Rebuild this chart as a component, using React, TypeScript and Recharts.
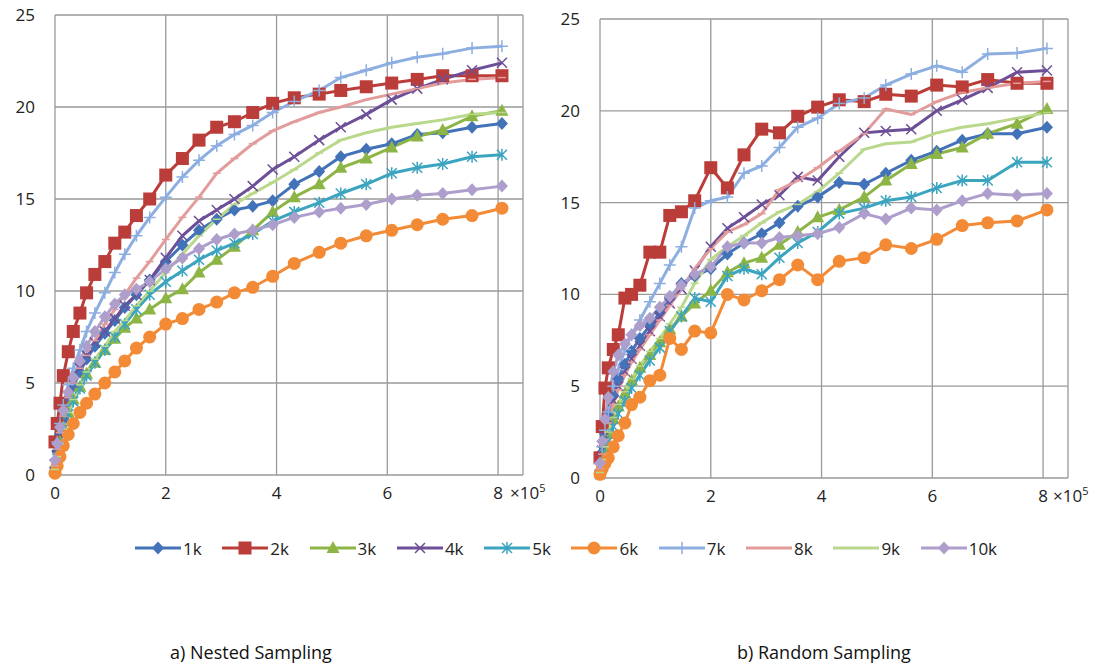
import React from "react";
import { LineChart, Line, XAxis, YAxis, CartesianGrid } from "recharts";

// x positions in units of 10^5, shared by both panels
const xValues = [0, 0.04, 0.09, 0.15, 0.24, 0.33, 0.45, 0.57, 0.72, 0.9, 1.08, 1.26, 1.47, 1.71, 2.0, 2.3, 2.6, 2.92, 3.24, 3.57, 3.93, 4.32, 4.77, 5.16, 5.62, 6.08, 6.54, 7.0, 7.53, 8.07];
const xTicks = [0, 2, 4, 6, 8];
const yTicks = [0, 5, 10, 15, 20, 25];
const seriesNames = ["1k", "2k", "3k", "4k", "5k", "6k", "7k", "8k", "9k", "10k"];

// a) Nested Sampling
const nested1k = [0.4, 1.3, 2.2, 3.0, 4.0, 4.8, 5.6, 6.3, 7.0, 7.7, 8.4, 9.1, 9.8, 10.6, 11.6, 12.5, 13.3, 13.9, 14.4, 14.6, 14.9, 15.8, 16.5, 17.3, 17.7, 18.0, 18.5, 18.6, 18.9, 19.1];
const nested2k = [1.8, 2.8, 3.9, 5.4, 6.7, 7.8, 8.8, 9.9, 10.9, 11.6, 12.6, 13.2, 14.1, 15.0, 16.3, 17.2, 18.2, 18.9, 19.2, 19.7, 20.2, 20.5, 20.7, 20.9, 21.1, 21.3, 21.5, 21.7, 21.7, 21.7];
const nested3k = [0.3, 1.0, 1.8, 2.6, 3.4, 4.1, 4.8, 5.5, 6.1, 6.8, 7.4, 8.0, 8.5, 9.0, 9.6, 10.1, 11.0, 11.7, 12.4, 13.3, 14.3, 15.1, 15.8, 16.7, 17.2, 17.8, 18.4, 18.75, 19.5, 19.8];
const nested4k = [0.6, 1.5, 2.4, 3.3, 4.3, 5.0, 5.8, 6.5, 7.2, 7.8, 8.5, 9.2, 9.8, 10.6, 11.8, 13.0, 13.8, 14.4, 15.0, 15.7, 16.6, 17.3, 18.2, 18.9, 19.6, 20.4, 21.0, 21.5, 22.0, 22.4];
const nested5k = [0.2, 0.9, 1.7, 2.5, 3.3, 4.0, 4.7, 5.4, 6.1, 6.8, 7.5, 8.2, 9.0, 9.8, 10.5, 11.1, 11.7, 12.2, 12.6, 13.1, 13.8, 14.3, 14.8, 15.3, 15.8, 16.4, 16.7, 16.9, 17.3, 17.4];
const nested6k = [0.1, 0.5, 1.0, 1.6, 2.2, 2.8, 3.4, 3.9, 4.4, 5.0, 5.6, 6.2, 6.9, 7.5, 8.2, 8.5, 9.0, 9.4, 9.9, 10.2, 10.8, 11.5, 12.1, 12.6, 13.0, 13.3, 13.6, 13.9, 14.1, 14.5];
const nested7k = [0.8, 1.8, 2.8, 3.8, 4.9, 5.8, 6.8, 7.8, 8.8, 9.9, 11.0, 12.0, 13.0, 14.0, 15.1, 16.2, 17.1, 17.9, 18.5, 19.0, 19.7, 20.3, 20.9, 21.6, 22.0, 22.4, 22.7, 22.9, 23.2, 23.3];
const nested8k = [0.5, 1.4, 2.3, 3.2, 4.2, 5.0, 5.8, 6.5, 7.3, 8.2, 9.0, 9.8, 10.7, 11.6, 12.8, 14.0, 15.1, 16.4, 17.2, 18.0, 18.7, 19.2, 19.7, 20.0, 20.4, 20.7, 21.0, 21.3, 21.5, 21.6];
const nested9k = [0.3, 1.0, 1.7, 2.5, 3.4, 4.1, 4.9, 5.6, 6.3, 7.0, 7.8, 8.4, 9.2, 10.0, 11.0, 12.0, 13.0, 13.9, 14.7, 15.3, 15.9, 16.6, 17.5, 18.2, 18.6, 18.9, 19.1, 19.3, 19.6, 19.7];
const nested10k = [0.8, 1.7, 2.6, 3.5, 4.5, 5.3, 6.2, 7.0, 7.8, 8.6, 9.3, 9.8, 10.1, 10.5, 11.2, 11.8, 12.3, 12.8, 13.1, 13.3, 13.6, 14.0, 14.3, 14.5, 14.7, 15.0, 15.2, 15.3, 15.5, 15.7];

// b) Random Sampling
const random1k = [0.4, 1.4, 2.4, 3.4, 4.5, 5.4, 6.2, 6.9, 7.6, 8.3, 9.0, 9.8, 10.6, 11.0, 11.4, 12.2, 12.8, 13.3, 13.9, 14.8, 15.3, 16.1, 16.0, 16.6, 17.3, 17.8, 18.4, 18.75, 18.75, 19.1];
const random2k = [1.1, 2.8, 4.9, 6.0, 7.0, 7.8, 9.8, 10.0, 10.5, 12.3, 12.3, 14.3, 14.5, 15.1, 16.9, 15.8, 17.6, 19.0, 18.8, 19.7, 20.2, 20.6, 20.5, 20.9, 20.8, 21.4, 21.3, 21.7, 21.5, 21.5];
const random3k = [0.3, 0.9, 1.6, 2.4, 3.2, 3.9, 4.6, 5.3, 6.0, 6.7, 7.4, 8.1, 8.8, 9.5, 10.2, 11.2, 11.7, 12.0, 12.7, 13.4, 14.2, 14.6, 15.3, 16.2, 17.1, 17.65, 18.0, 18.75, 19.3, 20.1];
const random4k = [0.6, 1.5, 2.3, 3.2, 4.2, 5.0, 5.8, 6.5, 7.2, 8.0, 8.8, 9.5, 10.3, 11.3, 12.6, 13.6, 14.2, 14.9, 15.4, 16.4, 16.2, 17.5, 18.8, 18.9, 19.0, 20.0, 20.6, 21.25, 22.1, 22.2];
const random5k = [0.2, 0.7, 1.3, 2.0, 2.8, 3.5, 4.2, 4.9, 5.6, 6.4, 7.1, 8.0, 8.8, 9.8, 9.6, 11.0, 11.4, 11.1, 12.0, 12.8, 13.4, 14.4, 14.7, 15.1, 15.3, 15.8, 16.2, 16.2, 17.2, 17.2];
const random6k = [0.2, 0.5, 0.8, 1.1, 1.7, 2.3, 3.0, 4.0, 4.4, 5.3, 5.6, 7.6, 7.0, 8.0, 7.9, 10.0, 9.7, 10.2, 10.8, 11.6, 10.8, 11.8, 12.0, 12.7, 12.5, 13.0, 13.75, 13.9, 14.0, 14.6];
const random7k = [0.8, 1.7, 2.6, 3.6, 5.0, 5.9, 7.0, 7.8, 8.6, 9.6, 10.6, 11.6, 12.6, 14.7, 15.1, 15.3, 16.6, 17.0, 18.0, 19.1, 19.6, 20.4, 20.7, 21.4, 22.0, 22.45, 22.1, 23.1, 23.15, 23.4];
const random8k = [0.5, 1.3, 2.1, 3.0, 4.0, 4.8, 5.6, 6.3, 7.0, 7.8, 8.6, 9.4, 10.3, 11.4, 12.5, 13.4, 13.8, 14.4, 15.7, 16.2, 16.9, 17.8, 18.75, 20.1, 19.8, 20.5, 21.0, 21.25, 21.5, 21.6];
const random9k = [0.3, 1.0, 1.7, 2.5, 3.3, 4.0, 4.7, 5.4, 6.1, 6.9, 7.6, 8.4, 9.3, 10.6, 11.9, 12.6, 13.2, 13.9, 14.5, 14.9, 15.6, 16.6, 17.9, 18.2, 18.3, 18.8, 19.1, 19.3, 19.6, 19.9];
const random10k = [0.8, 2.0, 3.2, 4.4, 5.8, 6.7, 7.3, 7.8, 8.3, 8.7, 9.3, 9.9, 10.5, 11.1, 11.5, 12.6, 12.8, 12.8, 13.1, 13.2, 13.3, 13.65, 14.4, 14.1, 14.7, 14.6, 15.1, 15.5, 15.4, 15.5];

const nestedSeries = [nested1k, nested2k, nested3k, nested4k, nested5k, nested6k, nested7k, nested8k, nested9k, nested10k];
const randomSeries = [random1k, random2k, random3k, random4k, random5k, random6k, random7k, random8k, random9k, random10k];

type MarkerKind = "diamond" | "square" | "triangle" | "cross" | "star" | "circle" | "plus" | "dash";

const styles: { color: string; marker: MarkerKind }[] = [
  { color: "#4272b8", marker: "diamond" },
  { color: "#bb3d39", marker: "square" },
  { color: "#8db546", marker: "triangle" },
  { color: "#6d4f98", marker: "cross" },
  { color: "#3ba4bf", marker: "star" },
  { color: "#f38b36", marker: "circle" },
  { color: "#8caee0", marker: "plus" },
  { color: "#e39c9c", marker: "dash" },
  { color: "#b9d88c", marker: "dash" },
  { color: "#ad9ecc", marker: "diamond" },
];

function buildRows(series: number[][]) {
  return xValues.map((x, i) => {
    const row: Record<string, number> = { x };
    seriesNames.forEach((name, s) => {
      row[name] = series[s][i];
    });
    return row;
  });
}

const nestedData = buildRows(nestedSeries);
const randomData = buildRows(randomSeries);

function Marker({ kind, cx, cy, color }: { kind: MarkerKind; cx: number; cy: number; color: string }) {
  switch (kind) {
    case "diamond":
      return <path d={`M${cx},${cy - 6.5}L${cx + 6},${cy}L${cx},${cy + 6.5}L${cx - 6},${cy}Z`} fill={color} />;
    case "square":
      return <rect x={cx - 6.5} y={cy - 6.5} width={13} height={13} fill={color} />;
    case "triangle":
      return <path d={`M${cx},${cy - 7}L${cx + 6.5},${cy + 5}L${cx - 6.5},${cy + 5}Z`} fill={color} />;
    case "cross":
      return (
        <path d={`M${cx - 5},${cy - 5}L${cx + 5},${cy + 5}M${cx - 5},${cy + 5}L${cx + 5},${cy - 5}`} stroke={color} strokeWidth={1.5} />
      );
    case "star":
      return (
        <path
          d={`M${cx - 5},${cy - 5}L${cx + 5},${cy + 5}M${cx - 5},${cy + 5}L${cx + 5},${cy - 5}M${cx},${cy - 6}L${cx},${cy + 6}`}
          stroke={color}
          strokeWidth={1.5}
        />
      );
    case "circle":
      return <circle cx={cx} cy={cy} r={6.5} fill={color} />;
    case "plus":
      return <path d={`M${cx},${cy - 6}L${cx},${cy + 6}M${cx - 6},${cy}L${cx + 6},${cy}`} stroke={color} strokeWidth={1.5} />;
    default:
      return <path d={`M${cx - 4},${cy}L${cx + 4},${cy}`} stroke={color} strokeWidth={1.5} />;
  }
}

function Panel({ data, top, height }: { data: Record<string, number>[]; top: number; height: number }) {
  return (
    <LineChart width={540} height={height} data={data} margin={{ top, right: 17, bottom: 0, left: 0 }}>
      <CartesianGrid stroke="#9a9a9a" strokeWidth={1.3} />
      <XAxis
        dataKey="x"
        type="number"
        domain={[0, 8.45]}
        ticks={xTicks}
        interval={0}
        axisLine={false}
        tickLine={false}
        height={35}
        tickMargin={6}
        tick={{ fontSize: 17, fill: "#222" }}
      />
      <YAxis
        type="number"
        domain={[0, 25]}
        ticks={yTicks}
        interval={0}
        axisLine={false}
        tickLine={false}
        width={55}
        tickMargin={14}
        tick={{ fontSize: 17, fill: "#222" }}
      />
      {seriesNames.map((name, s) => (
        <Line
          key={name}
          type="linear"
          dataKey={name}
          stroke={styles[s].color}
          strokeWidth={3}
          isAnimationActive={false}
          dot={(p: any) => (
            <g key={`${name}-${p.index}`}>
              <Marker kind={styles[s].marker} cx={p.cx} cy={p.cy} color={styles[s].color} />
            </g>
          )}
        />
      ))}
    </LineChart>
  );
}

function LegendRow() {
  return (
    <div style={{ position: "absolute", left: 135, top: 538, display: "flex" }}>
      {seriesNames.map((name, s) => (
        <div key={name} style={{ width: 87.3, display: "flex", alignItems: "center", height: 20 }}>
          <svg width={46} height={20}>
            <line x1={0} y1={10} x2={46} y2={10} stroke={styles[s].color} strokeWidth={3} />
            <Marker kind={styles[s].marker} cx={23} cy={10} color={styles[s].color} />
          </svg>
          <span style={{ fontSize: 17, marginLeft: 2, color: "#222" }}>{name}</span>
        </div>
      ))}
    </div>
  );
}

function Scale({ left, top }: { left: number; top: number }) {
  return (
    <div style={{ position: "absolute", left, top, fontSize: 17, color: "#222", lineHeight: "20px" }}>
      ×10<span style={{ fontSize: 11, position: "relative", top: -7 }}>5</span>
    </div>
  );
}

export default function App() {
  return (
    <div
      style={{
        position: "absolute",
        left: 0,
        top: 0,
        width: 1103,
        height: 667,
        background: "#fff",
        fontFamily: "'Open Sans', sans-serif",
      }}
    >
      <div style={{ position: "absolute", left: 0, top: 0 }}>
        <Panel data={nestedData} top={15} height={510} />
      </div>
      <div style={{ position: "absolute", left: 545, top: 0 }}>
        <Panel data={randomData} top={19} height={513} />
      </div>
      <Scale left={510} top={483} />
      <Scale left={1053} top={486} />
      <LegendRow />
      <div style={{ position: "absolute", left: 170, top: 640, fontSize: 18, color: "#111" }}>a) Nested Sampling</div>
      <div style={{ position: "absolute", left: 737, top: 640, fontSize: 18, color: "#111" }}>b) Random Sampling</div>
    </div>
  );
}
